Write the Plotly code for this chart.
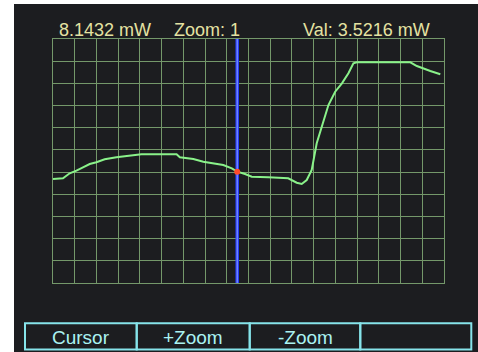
import plotly.graph_objects as go

# ---- data (sample index vs power in mW) ----
sample_idx = [0, 4.6, 7.7, 10.8, 13.8, 16.9, 20.0, 23.8, 29.2, 35.4, 40.7, 47.7, 56.9,
              58.4, 64.6, 69.2, 74.6, 78.4, 82.3, 84.8, 88.4, 91.5, 99.1, 108.3, 112.2,
              114.5, 116.8, 119.1, 121.4, 124.5, 126.8, 129.9, 133.0, 136.0, 138.3,
              139.9, 164.5, 167.5, 171.4, 173.7, 178.3]
power_mw = [3.213, 3.243, 3.454, 3.564, 3.707, 3.847, 3.919, 4.045, 4.130, 4.185, 4.257,
            4.257, 4.257, 4.130, 4.058, 3.944, 3.876, 3.805, 3.665, 3.522, 3.424, 3.310,
            3.285, 3.243, 3.057, 3.002, 3.171, 3.593, 4.721, 5.634, 6.339, 6.901, 7.256,
            7.678, 8.100, 8.143, 8.143, 7.986, 7.847, 7.775, 7.636]

cursor_x = 84.8
cursor_val = 3.5216
peak_val = 8.1432
zoom_level = 1

x_range = [0, 180]
x_div = 10
y_range = [-1.1797, 9.1273]
y_div = (y_range[1] - y_range[0]) / 11

header_labels = [f"{peak_val:.4f} mW", f"Zoom: {zoom_level}", f"Val: {cursor_val:.4f} mW"]
button_labels = ["Cursor", "+Zoom", "-Zoom", ""]

# ---- layout geometry (pixels) ----
W, H = 478, 352
ML, MR, MT, MB = 53, 34, 39, 69
PW, PH = W - ML - MR, H - MT - MB

def px(xp):
    return (xp - ML) / PW

def py(yp):
    return (H - MB - yp) / PH

BG = "#1c1d20"
GRID = "#74986a"
CURVE = "#8af28a"
TXT = "#e4e2a2"
CYAN = "#86e4ea"
CYAN_TXT = "#aaf2f2"

fig = go.Figure()

fig.add_trace(go.Scatter(x=sample_idx, y=power_mw, mode="lines",
                         line=dict(color=CURVE, width=2), hoverinfo="skip"))
# cursor
fig.add_trace(go.Scatter(x=[cursor_x, cursor_x], y=y_range, mode="lines",
                         line=dict(color="#2a3cff", width=3.5), hoverinfo="skip"))
fig.add_trace(go.Scatter(x=[cursor_x, cursor_x], y=y_range, mode="lines",
                         line=dict(color="#8aa8ff", width=1), hoverinfo="skip"))
fig.add_trace(go.Scatter(x=[cursor_x], y=[cursor_val], mode="markers",
                         marker=dict(color="#ff4a2a", size=6), hoverinfo="skip"))

shapes = [
    dict(type="rect", xref="paper", yref="paper", layer="below",
         x0=px(14), x1=px(W + 5), y0=py(H + 5), y1=py(4),
         fillcolor=BG, line=dict(width=0)),
]
btn_edges = [25, 136.7, 249.7, 360.3, 471.3]
for i in range(4):
    shapes.append(dict(type="rect", xref="paper", yref="paper",
                       x0=px(btn_edges[i]), x1=px(btn_edges[i + 1]),
                       y0=py(349.5), y1=py(323.3),
                       line=dict(color=CYAN, width=2), fillcolor="rgba(0,0,0,0)"))

annotations = [
    dict(text=header_labels[0], x=px(57), y=py(30.5), xanchor="left", yanchor="middle"),
    dict(text=header_labels[1], x=px(172), y=py(30.5), xanchor="left", yanchor="middle"),
    dict(text=header_labels[2], x=px(432), y=py(30.5), xanchor="right", yanchor="middle"),
]
for a in annotations:
    a.update(xref="paper", yref="paper", showarrow=False,
             font=dict(family="Liberation Sans, Arial", size=18, color=TXT))
for i, lab in enumerate(button_labels):
    if lab:
        annotations.append(dict(text=lab, xref="paper", yref="paper", showarrow=False,
                                x=px((btn_edges[i] + btn_edges[i + 1]) / 2), y=py(337),
                                xanchor="center", yanchor="middle",
                                font=dict(family="Liberation Sans, Arial", size=19,
                                          color=CYAN_TXT)))

axis_common = dict(showgrid=True, gridcolor=GRID, gridwidth=1, zeroline=False,
                   showticklabels=False, ticks="", showline=True, mirror=True,
                   linecolor=GRID, linewidth=1, fixedrange=True)

fig.update_layout(
    width=W, height=H, autosize=False,
    margin=dict(l=ML, r=MR, t=MT, b=MB, pad=0),
    paper_bgcolor="white", plot_bgcolor="rgba(0,0,0,0)",
    showlegend=False,
    xaxis=dict(range=x_range, tick0=0, dtick=x_div, **axis_common),
    yaxis=dict(range=y_range, tick0=y_range[0], dtick=y_div, **axis_common),
    shapes=shapes, annotations=annotations,
)

fig.write_html("out.html", config={"displayModeBar": False},
               post_script="document.body.style.margin='0';document.body.style.overflow='hidden';")
